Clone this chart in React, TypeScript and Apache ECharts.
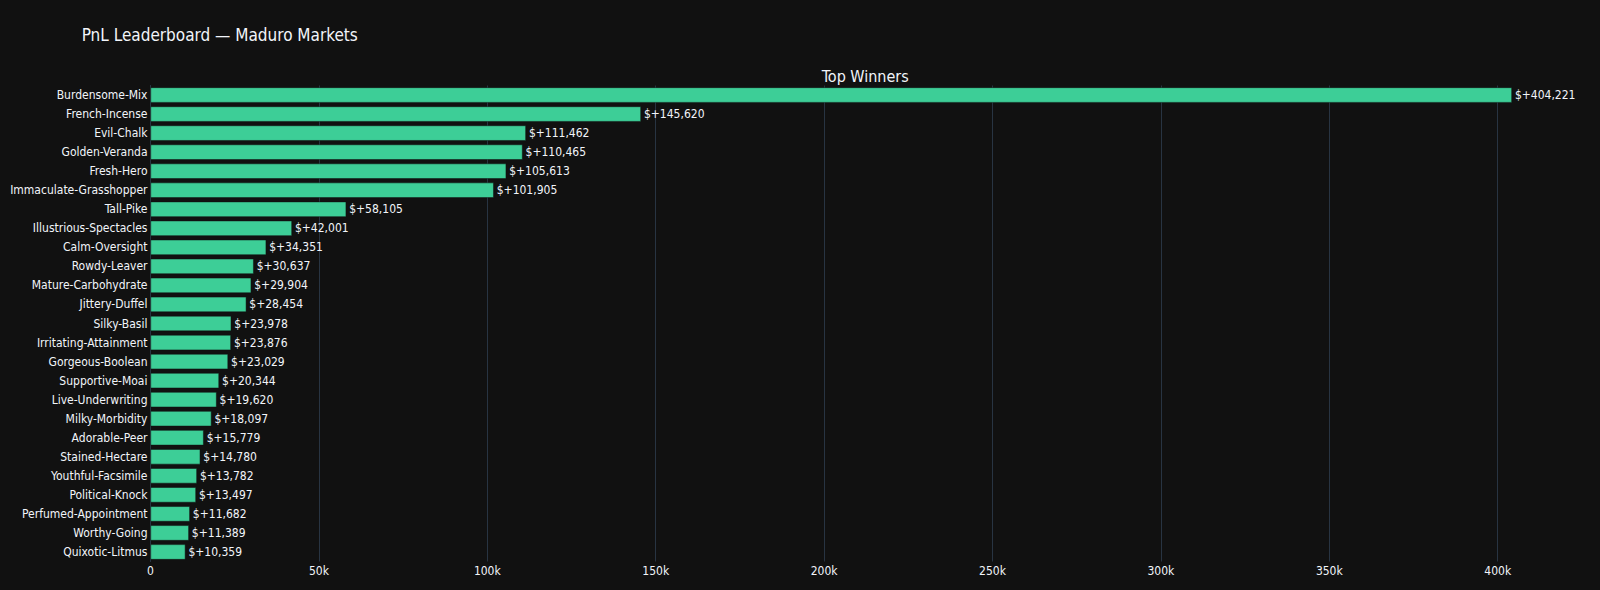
import React, { useEffect, useRef } from "react";
import * as echarts from "echarts";

const traders: string[] = [
  "Burdensome-Mix",
  "French-Incense",
  "Evil-Chalk",
  "Golden-Veranda",
  "Fresh-Hero",
  "Immaculate-Grasshopper",
  "Tall-Pike",
  "Illustrious-Spectacles",
  "Calm-Oversight",
  "Rowdy-Leaver",
  "Mature-Carbohydrate",
  "Jittery-Duffel",
  "Silky-Basil",
  "Irritating-Attainment",
  "Gorgeous-Boolean",
  "Supportive-Moai",
  "Live-Underwriting",
  "Milky-Morbidity",
  "Adorable-Peer",
  "Stained-Hectare",
  "Youthful-Facsimile",
  "Political-Knock",
  "Perfumed-Appointment",
  "Worthy-Going",
  "Quixotic-Litmus",
];

const pnl: number[] = [
  404221, 145620, 111462, 110465, 105613, 101905, 58105, 42001, 34351, 30637,
  29904, 28454, 23978, 23876, 23029, 20344, 19620, 18097, 15779, 14780, 13782,
  13497, 11682, 11389, 10359,
];

const titleText = "PnL Leaderboard — Maduro Markets";
const subplotTitle = "Top Winners";
const axisMax = 424432;
const tickStep = 50000;

const FONT = "'DejaVu Sans Condensed', 'DejaVu Sans', Verdana, sans-serif";
const TEXT = "#f2f5fa";
const GRID = "#283442";

export default function App() {
  const ref = useRef<HTMLDivElement>(null);
  useEffect(() => {
    if (!ref.current) return;
    const chart = echarts.init(ref.current, undefined, { renderer: "svg" });
    const gridLeft = 150.5;
    const gridRight = 20;
    const plotCenter = gridLeft + (1600 - gridLeft - gridRight) / 2;
    chart.setOption({
      animation: false,
      backgroundColor: "#111111",
      textStyle: { fontFamily: FONT },
      grid: { left: gridLeft, right: gridRight, top: 85.5, height: 476 },
      graphic: [
        {
          type: "text",
          left: 81.7,
          top: 26,
          style: {
            text: titleText,
            fill: TEXT,
            fontSize: 17,
            fontFamily: FONT,
          },
        },
        {
          type: "text",
          x: plotCenter,
          y: 76,
          style: {
            text: subplotTitle,
            fill: TEXT,
            fontSize: 16,
            fontFamily: FONT,
            align: "center",
            verticalAlign: "middle",
          },
        },
      ],
      xAxis: {
        type: "value",
        min: 0,
        max: axisMax,
        interval: tickStep,
        axisLine: { show: false },
        axisTick: { show: false },
        axisLabel: {
          color: TEXT,
          fontSize: 12,
          fontFamily: FONT,
          margin: 3,
          showMaxLabel: false,
          formatter: (v: number) => (v === 0 ? "0" : v / 1000 + "k"),
        },
        splitLine: {
          show: true,
          showMaxLine: false,
          lineStyle: { color: GRID, width: 1 },
        },
      },
      yAxis: {
        type: "category",
        inverse: true,
        data: traders,
        axisLine: { show: true, lineStyle: { color: GRID, width: 1 } },
        axisTick: { show: false },
        splitLine: { show: false },
        axisLabel: {
          color: TEXT,
          fontSize: 12,
          fontFamily: FONT,
          margin: 3,
        },
      },
      series: [
        {
          type: "bar",
          data: pnl,
          barCategoryGap: "20%",
          itemStyle: {
            color: "#3dce97",
            borderColor: "#111111",
            borderWidth: 0.5,
          },
          label: {
            show: true,
            position: "right",
            distance: 3,
            color: TEXT,
            fontSize: 12,
            fontFamily: FONT,
            formatter: (p: any) => "$+" + Number(p.value).toLocaleString("en-US"),
          },
        },
      ],
    });
    return () => chart.dispose();
  }, []);
  return (
    <div
      ref={ref}
      style={{ position: "fixed", left: 0, top: 0, width: 1600, height: 590 }}
    />
  );
}
